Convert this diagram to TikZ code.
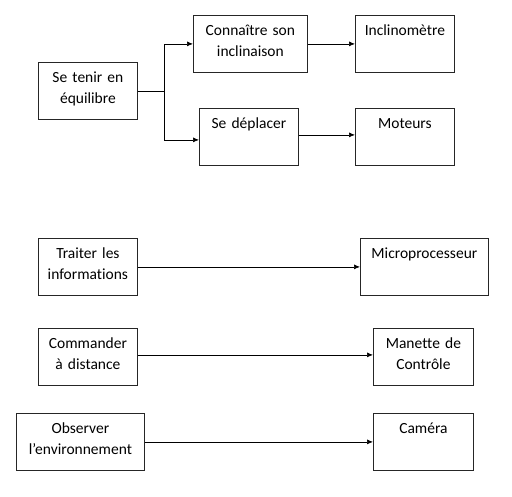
\documentclass[tikz,border=0pt]{standalone}
\usepackage{fontspec}
\setmainfont{Carlito}[Ligatures=NoCommon]
\usetikzlibrary{arrows.meta}

\begin{document}
\begin{tikzpicture}[
  x=1pt, y=-1pt,
  every node/.style={font=\fontsize{15.5}{21}\selectfont},
  fnbox/.style={draw=black!85, line width=0.8pt, inner sep=0pt, anchor=north west, text width=#1, align=center, text height=20pt, text depth=37pt},
  link/.style={->, line width=0.7pt},
  >={Latex[length=6pt,width=5pt]}
]
\useasboundingbox (0,0) rectangle (512,496);

% Equilibre
\node[fnbox=99pt]  (st)  at (38,62)   {Se tenir en\\équilibre};
\node[fnbox=114pt] (cn)  at (193,15)  {Connaître son\\inclinaison};
\node[fnbox=99pt]  (inc) at (355,15)  {Inclinomètre};
\node[fnbox=99pt]  (sd)  at (199,108) {Se déplacer};
\node[fnbox=99pt]  (mot) at (355,108) {Moteurs};

\coordinate (fork) at ([xshift=27pt]st.east);
\draw[line width=0.7pt] (st.east) -- (fork);
\draw[link] (fork) |- (cn.west);
\draw[link] (fork) |- ([yshift=-3pt]sd.west);
\draw[link] (cn) -- (inc);
\draw[link] ([yshift=2pt]sd.east) -- ([yshift=2pt]mot.west);

% Other functions
\node[fnbox=99pt]  (tr)  at (38,238)  {Traiter les\\informations};
\node[fnbox=128pt] (mic) at (360,238) {Microprocesseur};
\node[fnbox=99pt]  (cmd) at (38,328)  {Commander\\à distance};
\node[fnbox=100pt] (man) at (373,328) {Manette de\\Contrôle};
\node[fnbox=128pt] (obs) at (16,413)  {Observer\\l’environnement};
\node[fnbox=100pt] (cam) at (373,413) {Caméra};

\draw[link] (tr) -- (mic);
\draw[link] ([yshift=2pt]cmd.east) -- ([yshift=2pt]man.west);
\draw[link] (obs) -- (cam);
\end{tikzpicture}
\end{document}
